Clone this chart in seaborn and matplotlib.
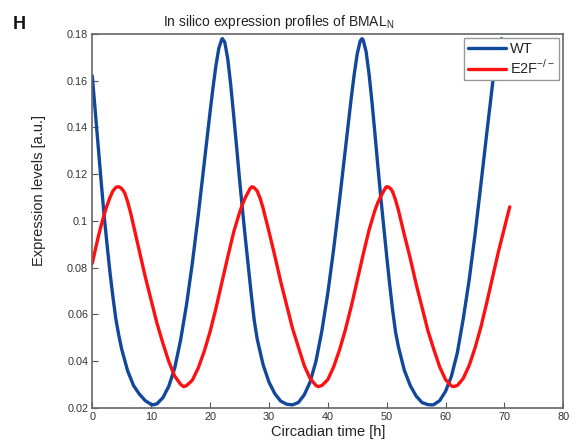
import matplotlib
matplotlib.use("Agg")
import matplotlib.pyplot as plt
import seaborn as sns
import pandas as pd

# ---- data ----
wt_time = [0, 0.5, 1, 1.5, 2, 2.5, 3, 3.5, 4, 4.5, 5, 6, 7, 8, 9, 10, 10.3,
           11, 12, 13, 14, 15, 16, 17, 18, 19, 20, 20.5, 21, 21.5, 22, 22.1,
           22.5, 23, 23.5, 24, 24.5, 25, 25.5, 26, 26.5, 27, 27.5, 28, 29, 30, 31, 32, 33, 34,
           35, 36, 37, 38, 39, 40, 41, 42, 43, 44, 44.5, 45, 45.5, 45.8,
           46, 46.5, 47, 47.5, 48, 48.5, 49, 49.5, 50, 50.5, 51, 51.5, 52, 53, 54, 55, 56, 57, 57.7,
           58, 59, 60, 61, 62, 63, 64, 65, 66, 67, 68, 68.5, 69, 69.5, 70]
wt_level = [0.162, 0.147, 0.132, 0.117, 0.1025, 0.090, 0.078, 0.0675, 0.058, 0.051, 0.045, 0.0358, 0.0295, 0.0258, 0.023, 0.0214, 0.0212,
            0.0217, 0.0243, 0.0292, 0.0370, 0.0490, 0.0640, 0.0820, 0.1025, 0.1245, 0.1465, 0.157, 0.1665, 0.1740, 0.1778, 0.178,
            0.1765, 0.1695, 0.1585, 0.1455, 0.132, 0.118, 0.105, 0.0925, 0.0805, 0.0685, 0.0575, 0.0495, 0.0385, 0.031, 0.026, 0.0228, 0.0215, 0.0212,
            0.0222, 0.0255, 0.031, 0.040, 0.053, 0.069, 0.088, 0.109, 0.131, 0.153, 0.163, 0.1715, 0.177, 0.178,
            0.1775, 0.1725, 0.163, 0.151, 0.1375, 0.1235, 0.110, 0.0975, 0.085, 0.073, 0.062, 0.0525, 0.046, 0.036, 0.0295, 0.025, 0.0222, 0.0213, 0.0212,
            0.0213, 0.0230, 0.027, 0.0335, 0.0435, 0.058, 0.0745, 0.094, 0.1155, 0.1375, 0.159, 0.168, 0.175, 0.178, 0.1765]

ko_time = [0, 0.5, 1, 1.5, 2, 2.5, 3, 3.5, 4, 4.3, 4.6,
           5, 5.5, 6, 6.5, 7, 7.5, 8, 9, 10, 11, 12, 13, 14, 15, 15.5,
           16, 17, 18, 19, 20, 21, 22, 23, 24, 25, 25.5, 26, 26.5, 26.8, 27.1,
           27.4, 28, 28.5, 29, 30, 31, 32, 33, 34, 35, 36, 37, 38, 38.4,
           39, 40, 41, 42, 43, 44, 45, 46, 47, 48, 48.5, 49, 49.5, 49.8, 50,
           50.3, 50.7, 51, 51.5, 52, 53, 54, 55, 56, 57, 58, 59, 60, 61, 61.3,
           62, 63, 64, 65, 66, 67, 68, 69, 70, 70.9]
ko_level = [0.0818, 0.0875, 0.093, 0.098, 0.1025, 0.1065, 0.110, 0.1128, 0.1143, 0.1146, 0.1145,
            0.1138, 0.112, 0.1082, 0.1035, 0.098, 0.0925, 0.087, 0.076, 0.066, 0.056, 0.0475, 0.0397, 0.0335, 0.030, 0.029,
            0.0294, 0.0318, 0.037, 0.044, 0.0525, 0.0625, 0.0735, 0.0845, 0.095, 0.1035, 0.107, 0.1100, 0.1124, 0.1138, 0.1146,
            0.1144, 0.1128, 0.1097, 0.1055, 0.0955, 0.085, 0.074, 0.064, 0.054, 0.046, 0.038, 0.0325, 0.0295, 0.029,
            0.0295, 0.032, 0.0375, 0.0448, 0.0535, 0.0635, 0.0745, 0.0855, 0.096, 0.1045, 0.1078, 0.1105, 0.1128, 0.1141, 0.1146,
            0.1145, 0.1137, 0.1125, 0.109, 0.1045, 0.094, 0.084, 0.073, 0.063, 0.053, 0.045, 0.0375, 0.032, 0.0293, 0.029,
            0.0295, 0.0325, 0.038, 0.0455, 0.0545, 0.065, 0.076, 0.087, 0.097, 0.106]

series_names = ["WT", "E2F$^{-/-}$"]
x_ticks = [0, 10, 20, 30, 40, 50, 60, 70, 80]
y_ticks = [0.02, 0.04, 0.06, 0.08, 0.1, 0.12, 0.14, 0.16, 0.18]

# ---- plotting ----
sns.set_theme(style="white")
plt.rcParams['font.family'] = ['Liberation Sans', 'DejaVu Sans']
plt.rcParams['mathtext.fontset'] = 'custom'
plt.rcParams['mathtext.rm'] = 'Liberation Sans'

fig = plt.figure(figsize=(5.79, 4.48), dpi=100)
ax = fig.add_axes([0.1594, 0.09, 0.8135, 0.8341])

wt_df = pd.DataFrame({"t": wt_time, "v": wt_level})
ko_df = pd.DataFrame({"t": ko_time, "v": ko_level})

sns.lineplot(data=wt_df, x="t", y="v", ax=ax, color="#11489c", lw=2.4,
             label=series_names[0], sort=False, estimator=None)
sns.lineplot(data=ko_df, x="t", y="v", ax=ax, color="#ff1010", lw=2.4,
             label=series_names[1], sort=False, estimator=None)

ax.set_xlim(0, 80)
ax.set_ylim(0.02, 0.18)
ax.set_xticks(x_ticks)
ax.set_yticks(y_ticks)
ax.set_xticklabels([f"{v:g}" for v in x_ticks])
ax.set_yticklabels([f"{v:g}" for v in y_ticks])
ax.tick_params(direction="in", length=4, width=0.8, colors="#555555",
               labelsize=7.8, labelcolor="#333333", bottom=True, left=True, pad=3)

for s in ax.spines.values():
    s.set_visible(True)
    s.set_color("#666666")
    s.set_linewidth(1.2)

ax.set_xlabel("Circadian time [h]", fontsize=10.5, color="#222222", labelpad=2)
ax.set_ylabel("Expression levels [a.u.]", fontsize=10.5, color="#222222", labelpad=4)
ax.yaxis.set_label_coords(-0.098, 0.58)

ax.set_title("In silico expression profiles of BMAL$_\\mathregular{N}$",
             fontsize=10, color="#222222", x=0.396, pad=6)
fig.text(0.022, 0.935, "H", fontsize=13, fontweight="bold", color="#111111")

leg = ax.legend(loc="upper right", fontsize=10.5, frameon=True, fancybox=False,
                handlelength=2.6, handletextpad=0.3, borderpad=0.25,
                labelspacing=0.15, borderaxespad=0.3)
leg.get_frame().set_edgecolor("#999999")
leg.get_frame().set_linewidth(1.0)
leg.get_frame().set_alpha(1.0)

fig.savefig("out.png", dpi=100)
